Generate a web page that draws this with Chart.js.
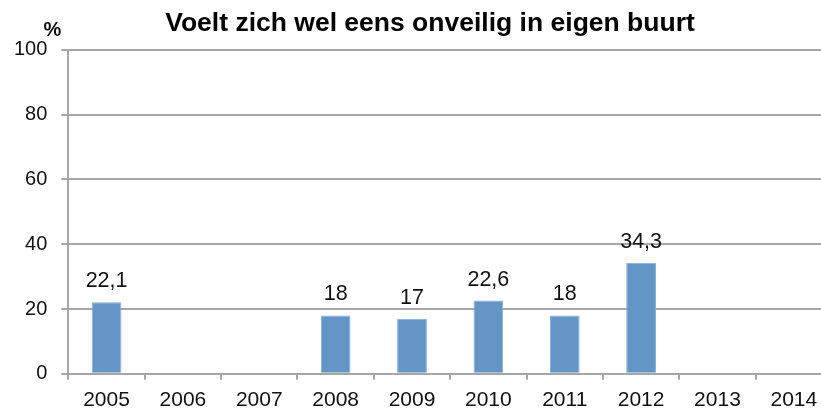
<!DOCTYPE html>
<html>
<head>
<meta charset="utf-8">
<script src="https://cdn.jsdelivr.net/npm/chart.js@4/dist/chart.umd.min.js"></script>
<style>
  html, body { margin: 0; padding: 0; background: #fff; overflow: hidden; }
  #wrap { width: 860px; height: 412px; overflow: hidden; }
</style>
</head>
<body>
<div id="wrap"><canvas id="buurtChart" width="860" height="421"></canvas></div>
<script>
// jaren en percentages (lege jaren = geen meting)
const years = ['2005', '2006', '2007', '2008', '2009', '2010', '2011', '2012', '2013', '2014'];
const onveilig = [22.1, null, null, 18, 17, 22.6, 18, 34.3, null, null];
const yTicks = [0, 20, 40, 60, 80, 100];

const fontFam = '"Liberation Sans", Arial, Helvetica, sans-serif';

// waarden boven de staven, en het %-teken boven de y-as
const labelPlugin = {
    id: 'barLabels',
    afterLayout(chart) {
        // titel iets naar rechts, zoals in het origineel
        chart.titleBlock.left += 28;
    },
    afterDatasetsDraw(chart) {
        const c = chart.ctx;
        const meta = chart.getDatasetMeta(0);
        c.save();
        c.fillStyle = '#111';
        c.font = '21.5px ' + fontFam;
        c.textAlign = 'center';
        c.textBaseline = 'alphabetic';
        meta.data.forEach((bar, i) => {
            const v = onveilig[i];
            if (v === null) return;
            c.fillText(String(v).replace('.', ','), bar.x, bar.y - 15);
        });
        const yScale = chart.scales.y;
        c.font = 'bold 20px ' + fontFam;
        c.fillText('%', yScale.right - 16, chart.chartArea.top - 14);
        c.restore();
    }
};

new Chart(document.getElementById('buurtChart'), {
    type: 'bar',
    data: {
        labels: years,
        datasets: [{
            data: onveilig,
            backgroundColor: '#6395c6',
            borderColor: '#86b0da',
            borderWidth: 1,
            categoryPercentage: 1.0,
            barPercentage: 0.39
        }]
    },
    options: {
        responsive: false,
        animation: false,
        layout: { padding: { left: 0, right: 28, top: 0, bottom: 0 } },
        scales: {
            x: {
                grid: { drawOnChartArea: false, drawTicks: true, tickLength: 6, color: '#a6a6a6', lineWidth: 2 },
                border: { display: false },
                ticks: { color: '#111', font: { family: fontFam, size: 21 }, padding: 8, maxRotation: 0 }
            },
            y: {
                min: 0,
                max: 100,
                afterBuildTicks: axis => { axis.ticks = yTicks.map(v => ({ value: v })); },
                grid: { color: '#a6a6a6', lineWidth: 2, tickLength: 7 },
                border: { display: true, color: '#a6a6a6', width: 2 },
                ticks: { color: '#111', font: { family: fontFam, size: 20 }, padding: 14 }
            }
        },
        plugins: {
            legend: { display: false },
            tooltip: { enabled: false },
            title: {
                display: true,
                text: 'Voelt zich wel eens onveilig in eigen buurt',
                color: '#000',
                font: { family: fontFam, size: 26.5, weight: 'bold' },
                padding: { top: 8, bottom: 10 }
            }
        }
    },
    plugins: [labelPlugin]
});
</script>
</body>
</html>
